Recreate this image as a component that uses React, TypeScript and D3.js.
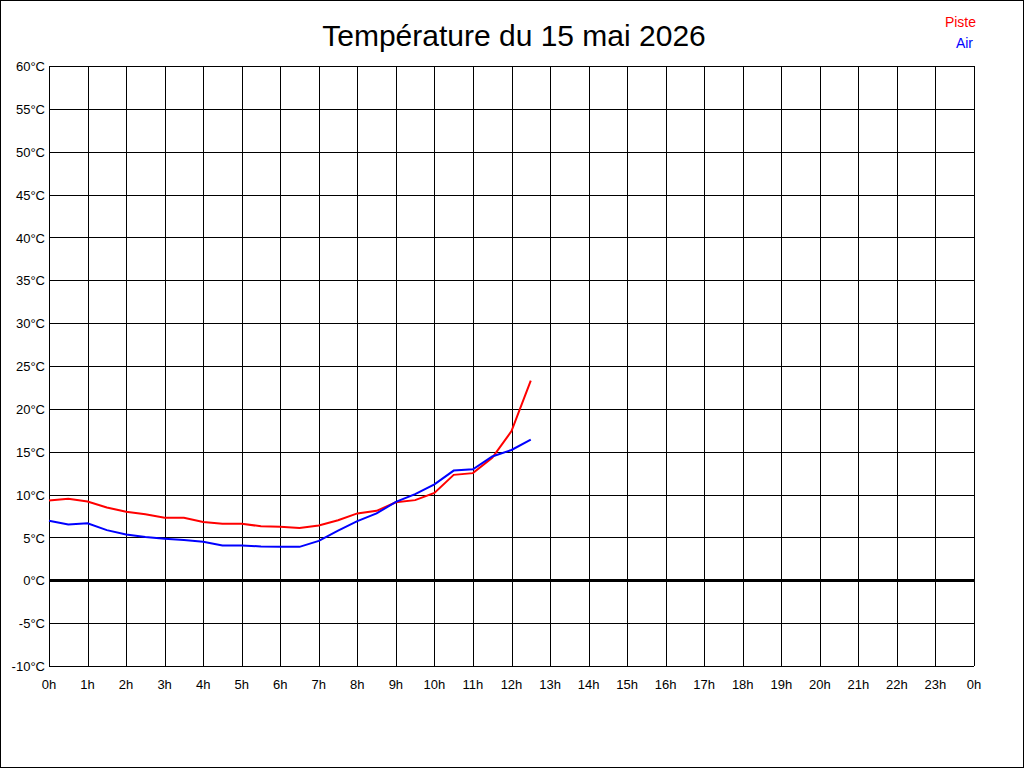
import React from "react";
import * as d3 from "d3";

const hours = [0, 0.5, 1, 1.5, 2, 2.5, 3, 3.5, 4, 4.5, 5, 5.5, 6, 6.5, 7, 7.5, 8, 8.5, 9, 9.5, 10, 10.5, 11, 11.5, 12, 12.5];
const piste = [9.3, 9.5, 9.2, 8.5, 8.0, 7.7, 7.3, 7.3, 6.8, 6.6, 6.6, 6.3, 6.25, 6.1, 6.4, 7.0, 7.8, 8.1, 9.1, 9.35, 10.2, 12.3, 12.5, 14.3, 17.4, 23.3];
const air = [6.95, 6.5, 6.65, 5.85, 5.35, 5.05, 4.85, 4.7, 4.5, 4.05, 4.05, 3.95, 3.9, 3.9, 4.6, 5.8, 6.9, 7.8, 9.15, 10.05, 11.2, 12.8, 12.95, 14.45, 15.2, 16.4];
const yTicks = [-10, -5, 0, 5, 10, 15, 20, 25, 30, 35, 40, 45, 50, 55, 60];
const xTicks = d3.range(0, 25);
const xTickLabels = xTicks.map((h) => `${h % 24}h`);
const title = "Température du 15 mai 2026";
const seriesNames = ["Piste", "Air"];
const seriesColors = ["#ff0000", "#0000ff"];

const W = 1024;
const H = 768;
const L = 49, R = 974, T = 66, B = 666;
const font = "'Liberation Sans', Arial, sans-serif";

export default function App() {
  const x = d3.scaleLinear().domain([0, 24]).range([L, R]);
  const y = d3.scaleLinear().domain([-10, 60]).range([B, T]);
  const line = d3
    .line<number>()
    .x((_, i) => x(hours[i]))
    .y((d) => y(d));

  return (
    <div style={{ position: "fixed", left: 0, top: 0 }}>
      <svg width={W} height={H} style={{ display: "block", background: "#fff" }}>
        <rect x={0.5} y={0.5} width={W - 1} height={H - 1} fill="#fff" stroke="#000" strokeWidth={1} />
        <g shapeRendering="crispEdges">
          {yTicks.map((t) => (
            <line key={"y" + t} x1={L} x2={R} y1={Math.round(y(t)) + 0.5} y2={Math.round(y(t)) + 0.5} stroke="#000" strokeWidth={1} />
          ))}
          {xTicks.map((t) => (
            <line key={"x" + t} x1={Math.round(x(t)) + 0.5} x2={Math.round(x(t)) + 0.5} y1={T} y2={B} stroke="#000" strokeWidth={1} />
          ))}
          <line x1={L} x2={R} y1={Math.round(y(0)) + 0.5} y2={Math.round(y(0)) + 0.5} stroke="#000" strokeWidth={3} />
        </g>
        {yTicks.map((t) => (
          <text key={"yl" + t} x={45} y={y(t)} dy="0.4em" textAnchor="end" fontFamily={font} fontSize={13} fill="#000">
            {`${t}°C`}
          </text>
        ))}
        {xTicks.map((t, i) => (
          <text key={"xl" + t} x={x(t)} y={689} textAnchor="middle" fontFamily={font} fontSize={13} fill="#000">
            {xTickLabels[i]}
          </text>
        ))}
        <path d={line(piste) || ""} fill="none" stroke={seriesColors[0]} strokeWidth={2} />
        <path d={line(air) || ""} fill="none" stroke={seriesColors[1]} strokeWidth={2} />
        <text x={514} y={46} textAnchor="middle" fontFamily={font} fontSize={30} fill="#000">
          {title}
        </text>
        <text x={976} y={27} textAnchor="end" fontFamily={font} fontSize={14} fill={seriesColors[0]}>
          {seriesNames[0]}
        </text>
        <text x={973} y={48} textAnchor="end" fontFamily={font} fontSize={14} fill={seriesColors[1]}>
          {seriesNames[1]}
        </text>
      </svg>
    </div>
  );
}
